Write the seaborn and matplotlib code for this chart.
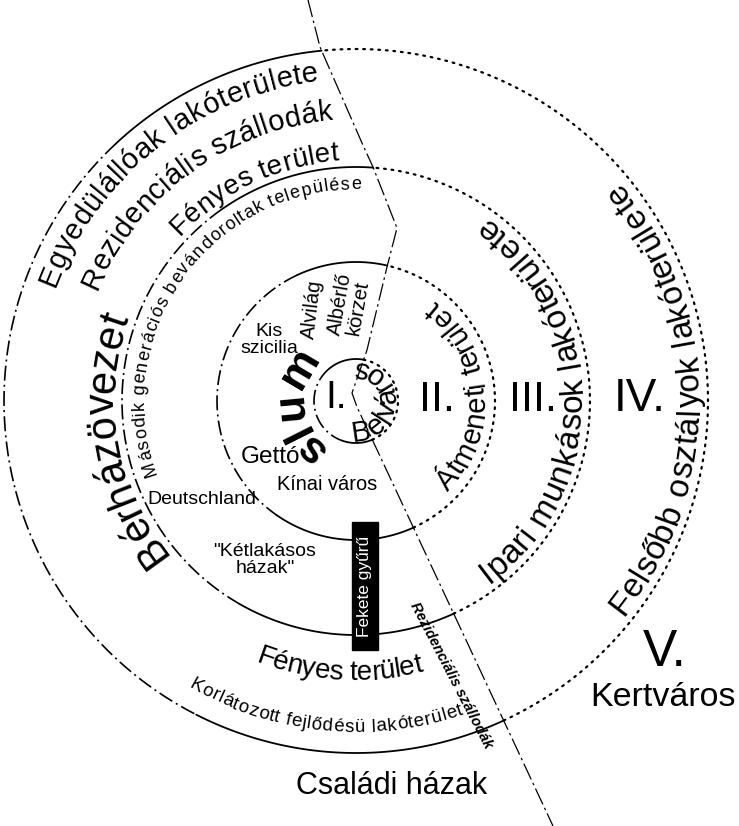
import numpy as np
import pandas as pd
import matplotlib
matplotlib.use("Agg")
import matplotlib.pyplot as plt
from matplotlib.patches import Rectangle
from matplotlib.font_manager import FontProperties, findfont, get_font
import seaborn as sns

# ---------------- data ----------------
center_x, center_y = 356, 401
zone_radii = [42, 139, 234, 352]
# west-side style breakpoints (degrees): solid top part ends / dash-dot part ends
west_solid_end = [130, 115, 125, 133]
west_dashdot_end = [250, 235, 240, 243]

# boundary (lake shore / sector) line, pixel coordinates
boundary_x = [308, 320, 362, 373, 397, 387, 367, 352, 357, 553]
boundary_y = [0, 47, 143, 167, 228, 267, 350, 393, 407, 826]

# curved labels: text, baseline radius, start angle, end angle, size(pt), mode, weight
curved_text = ["Egyedülállóak lakóterülete", "Rezidenciális szállodák", "Fényes terület",
               "Második generációs bevándoroltak települése", "Bérházövezet", "slum",
               "Belváros", "Átmeneti terület", "Ipari munkások lakóterülete",
               "Felsőbb osztályok lakóterülete", "Fényes terület",
               "Korlátozott fejlődésü lakóterület"]
curved_r = [322, 282, 241, 212, 242, 53, 40, 129, 226, 343, 279, 331]
curved_t0 = [159.5, 157, 137, 200.5, 219, 240, -98, -45, -54, -39, 249, 239.5]
curved_t1 = [96.5, 94.5, 94, 88.5, 160, 128, 92, 52, 55, 40, 284, 289]
curved_size = [21, 21, 20, 13, 30, 32, 21, 21, 24, 24, 20, 13.5]
curved_mode = ["out", "out", "out", "out", "out", "out", "in", "in", "in", "in", "in", "in"]
curved_weight = ["normal"] * 5 + ["bold"] + ["normal"] * 6

# straight labels
plain_text = ["I.", "II.", "III.", "IV.", "V.", "Kertváros", "Családi házak",
              "Kis\nszicilia", "Alvilág", "Albérlő\nkörzet", "Gettó", "Kínai város",
              "Deutschland", "\"Kétlakásos\nházak\""]
plain_x = [336, 437, 533, 640, 665, 663, 392, 269, 312, 349, 270, 327, 202, 265]
plain_y = [398, 400, 400, 399, 652, 697, 786, 340, 309, 306, 457, 485, 499, 560]
plain_size = [28, 31, 31, 33, 37, 24.5, 22, 14, 14.5, 14.5, 17.5, 14.4, 14, 14]
plain_rot = [0, 0, 0, 0, 0, 0, 0, 0, 83, 80, 0, 0, 0, 0]

black_ring_label = "Fekete gyűrű"
black_ring_box = (352, 522, 26, 128)
hotel_label = "Rezidenciális szállodák"
hotel_pos = (451, 675)
hotel_rot = -62.5

# ---------------- drawing ----------------
sns.set_theme(style="white")
plt.rcParams["font.family"] = ["Liberation Sans", "DejaVu Sans"]

fig = plt.figure(figsize=(7.39, 8.26), dpi=100)
ax = fig.add_axes([0, 0, 1, 1])
ax.set_xlim(0, 739)
ax.set_ylim(826, 0)
ax.axis("off")

DOT = (0, (0.8, 2.6))
DASHDOT = (0, (9, 2.5, 1.2, 2.5))
SOLID = "-"


def arc(r, a0, a1, style, lw):
    th = np.radians(np.linspace(a0, a1, max(int(abs(a1 - a0) * 2), 10)))
    df = pd.DataFrame({"x": center_x + r * np.cos(th),
                       "y": center_y - r * np.sin(th)})
    sns.lineplot(data=df, x="x", y="y", sort=False, estimator=None, ax=ax,
                 color="black", lw=lw)
    ln = ax.lines[-1]
    ln.set_linestyle(style)
    if style == DOT:
        ln.set_dash_capstyle("round")


# crossings of each circle with the boundary line
bx = np.array(boundary_x, float)
by = np.array(boundary_y, float)
segs = []
for i in range(len(bx) - 1):
    t = np.linspace(0, 1, 400, endpoint=False)
    segs.append(np.c_[bx[i] + (bx[i + 1] - bx[i]) * t, by[i] + (by[i + 1] - by[i]) * t])
P = np.vstack(segs)
dist = np.hypot(P[:, 0] - center_x, P[:, 1] - center_y)

for k, r in enumerate(zone_radii):
    s = np.sign(dist - r)
    idx = np.where(np.diff(s) != 0)[0]
    ups = [i for i in idx if P[i, 1] < center_y]
    downs = [i for i in idx if P[i, 1] > center_y]
    pu, pd_ = P[ups[0]], P[downs[-1]]
    top = np.degrees(np.arctan2(center_y - pu[1], pu[0] - center_x))
    bot = np.degrees(np.arctan2(center_y - pd_[1], pd_[0] - center_x)) % 360
    arc(r, top, west_solid_end[k], SOLID, 1.3)
    arc(r, west_solid_end[k], west_dashdot_end[k], DASHDOT, 1.2)
    arc(r, west_dashdot_end[k], bot, SOLID, 1.3)
    arc(r, bot, top + 360, DOT, 1.6)

bdf = pd.DataFrame({"x": bx, "y": by})
sns.lineplot(data=bdf, x="x", y="y", sort=False, estimator=None, ax=ax,
             color="black", lw=0.9)
ax.lines[-1].set_linestyle((0, (14, 3, 2, 3)))


def advances(s, fp):
    font = get_font(findfont(fp))
    font.set_size(fp.get_size_in_points(), 72)
    out = []
    for ch in s:
        g = font.load_char(ord(ch))
        out.append(g.linearHoriAdvance / 65536.0)
    return np.array(out)


for s, r, t0, t1, fs, mode, wt in zip(curved_text, curved_r, curved_t0, curved_t1,
                                      curved_size, curved_mode, curved_weight):
    fp = FontProperties(family="Liberation Sans", size=fs, weight=wt)
    adv = advances(s, fp)
    cum = np.cumsum(adv)
    centers = cum - adv / 2
    th = t0 + (t1 - t0) * centers / cum[-1]
    for ch, a in zip(s, th):
        if ch == " ":
            continue
        x = center_x + r * np.cos(np.radians(a))
        y = center_y - r * np.sin(np.radians(a))
        rot = a - 90 if mode == "out" else a + 90
        ax.text(x, y, ch, fontproperties=fp, rotation=rot, rotation_mode="anchor",
                ha="center", va="baseline", color="black")

for s, x, y, fs, rot in zip(plain_text, plain_x, plain_y, plain_size, plain_rot):
    ax.text(x, y, s, fontsize=fs, rotation=rot, rotation_mode="anchor",
            ha="center", va="center", multialignment="center", linespacing=1.0,
            color="black")

bx0, by0, bw, bh = black_ring_box
ax.add_patch(Rectangle((bx0, by0), bw, bh, facecolor="black", edgecolor="black"))
ax.text(bx0 + bw / 2, by0 + bh / 2, black_ring_label, rotation=90, color="white",
        fontsize=12.5, ha="center", va="center")

ax.text(hotel_pos[0], hotel_pos[1], hotel_label, rotation=hotel_rot,
        rotation_mode="anchor", ha="center", va="center", fontsize=10.5,
        style="italic", weight="bold", color="black")

fig.savefig("out.png", dpi=100)
